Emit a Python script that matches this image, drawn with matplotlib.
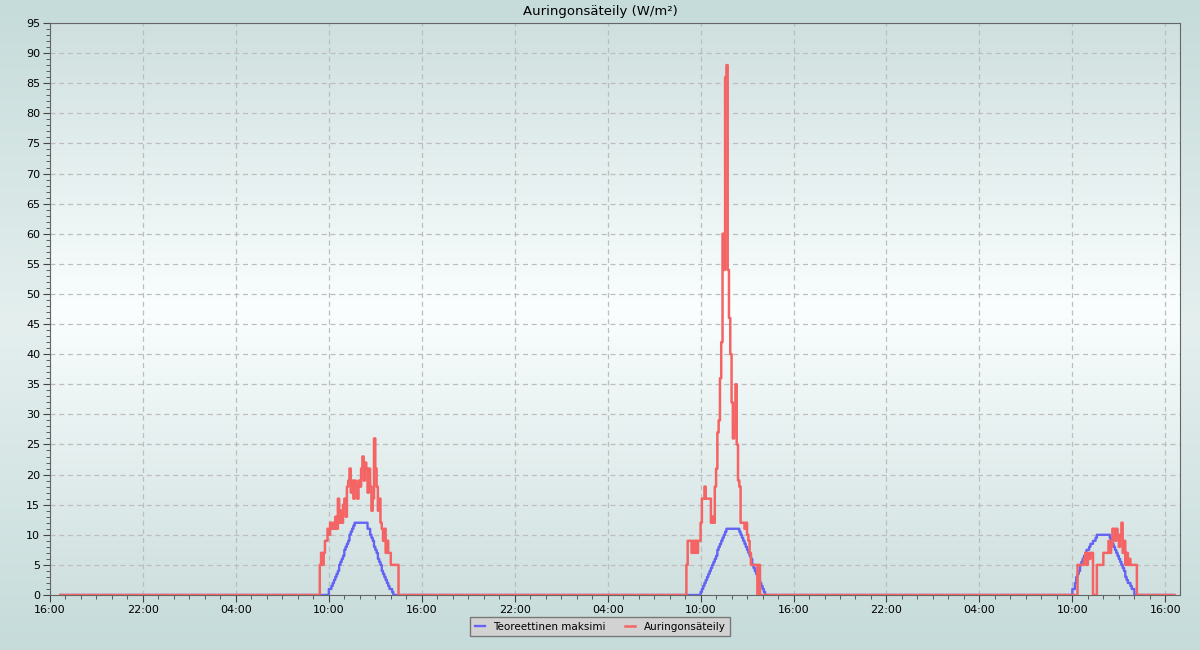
import numpy as np
import pandas as pd
import matplotlib
matplotlib.use("Agg")
import matplotlib.pyplot as plt
import matplotlib.dates as mdates
from matplotlib.ticker import MultipleLocator
from matplotlib.colors import LinearSegmentedColormap

plt.rcParams['font.family'] = ['DejaVu Sans']

# aikasarja 5 min välein, 16:40 (päivä 1) -> 16:35 (päivä 4)
alku = pd.Timestamp("2024-03-10 16:40")
loppu = pd.Timestamp("2024-03-13 16:35")

# teoreettinen maksimi (5 min arvot)
maksimi_pv2_alku = "2024-03-11 10:00"
maksimi_pv2 = [1, 1, 1.5, 2, 2.5, 3, 3.5, 4, 5, 5.5, 6, 6.5, 7.5, 8, 8.5, 9, 10, 10.5, 11, 11.5,
               12, 12, 12, 12, 12, 12, 12, 12, 12, 12,
               11, 11, 10, 9.5, 9, 8, 7.5, 7, 6, 5.5, 5, 4, 3.5, 3, 2.5, 2, 1.5, 1, 1, 0.5, 0]
maksimi_pv3_alku = "2024-03-12 10:00"
maksimi_pv3 = [0.5, 1, 1.5, 2, 2.5, 3, 3.5, 4, 4.5, 5, 5.5, 6, 6.5, 7.5, 8, 8.5, 9, 9.5, 10, 10.5,
               11, 11, 11, 11, 11, 11, 11, 11, 11, 11,
               10.5, 10, 9.5, 9, 8.5, 8, 7.5, 7, 6.5, 6, 5, 4.5, 4, 3.5, 3, 2.5, 2, 1.5, 1, 0.5, 0]
maksimi_pv4_alku = "2024-03-13 10:00"
maksimi_pv4 = [1, 1, 2, 3, 3.5, 4, 5, 5.5, 6, 6.5, 7, 7.5, 7.5, 8, 8.5, 8.5, 9, 9, 9.5,
               10, 10, 10, 10, 10, 10, 10, 10, 10, 10,
               9.5, 9, 8.5, 8, 7.5, 7, 6.5, 6, 5.5, 5, 4.5, 4, 3, 2.5, 2, 2, 1.5, 1, 1, 0]

# mitattu auringonsäteily (5 min arvot)
sateily_pv2_alku = "2024-03-11 09:25"
sateily_pv2 = [5, 7, 5, 7, 9, 9, 11, 10, 12, 11, 12, 11, 13, 11, 16, 12, 14, 12, 15, 16, 13,
               18, 19, 21, 17, 19, 16, 19, 18, 16, 19, 18, 21, 23, 19, 22, 21, 17, 21, 18, 14,
               16, 26, 21, 18, 14, 16, 12, 11, 9, 11, 7, 9, 7, 7, 5, 5, 5, 5, 5, 5, 0]
sateily_pv3_alku = "2024-03-12 09:05"
sateily_pv3 = [5, 9, 9, 9, 7, 9, 7, 9, 7, 9, 9, 12, 16, 16, 18, 16, 16, 16, 16, 12,
               13, 12, 18, 21, 27, 29, 36, 42, 60, 54, 86, 88, 54, 46, 40, 32, 26, 28, 35, 25,
               19, 18, 12, 12, 12, 11, 12, 10, 9, 7, 5, 5, 5, 5, 5, 0, 5, 0]
sateily_pv4_alku = "2024-03-13 10:20"
sateily_pv4 = [5, 5, 5, 5, 5, 6, 7, 5, 7, 6, 7, 7, 0, 0, 0, 5, 5, 5, 5, 5,
               7, 7, 7, 7, 9, 7, 8, 11, 11, 9, 11, 10, 8, 10, 12, 7, 9, 5, 7, 5,
               6, 5, 5, 5, 5, 5, 0]


def sarja(paivat):
    # yölliset arvot ovat nollia
    s = pd.Series(0.0, index=pd.date_range(alku, loppu, freq="5min"))
    for t0, arvot in paivat:
        idx = pd.date_range(t0, periods=len(arvot), freq="5min")
        s.loc[idx] = arvot
    return s


maksimi = sarja([(maksimi_pv2_alku, maksimi_pv2), (maksimi_pv3_alku, maksimi_pv3),
                 (maksimi_pv4_alku, maksimi_pv4)])
sateily = sarja([(sateily_pv2_alku, sateily_pv2), (sateily_pv3_alku, sateily_pv3),
                 (sateily_pv4_alku, sateily_pv4)])

fig = plt.figure(figsize=(12, 6.5), dpi=100)

# taustan liukuväri
tausta = fig.add_axes([0, 0, 1, 1], zorder=-10)
tausta.axis("off")
cm_fig = LinearSegmentedColormap.from_list("fig", ["#c6dcda", "#e4efee", "#c6dcda"])
tausta.imshow(np.linspace(0, 1, 256).reshape(-1, 1), aspect="auto", cmap=cm_fig,
              extent=[0, 1, 0, 1])

ax = fig.add_axes([50 / 1200, 55 / 650, 1130 / 1200, 572 / 650])
ax.set_facecolor("none")
x0 = pd.Timestamp("2024-03-10 16:00")
x1 = pd.Timestamp("2024-03-13 16:57")
cm_ax = LinearSegmentedColormap.from_list("ax", ["#cfe0df", "#fafefe", "#cfe0df"])
ax.imshow(np.linspace(0, 1, 256).reshape(-1, 1), aspect="auto", cmap=cm_ax,
          extent=[mdates.date2num(x0), mdates.date2num(x1), 0, 95], zorder=0)

ax.plot(maksimi.index, maksimi.values, drawstyle="steps-post", color="#6464f4",
        lw=1.7, label="Teoreettinen maksimi", zorder=3)
ax.plot(sateily.index, sateily.values, drawstyle="steps-post", color="#f46464",
        lw=1.8, label="Auringonsäteily", zorder=4)

ax.set_xlim(x0, x1)
ax.set_ylim(0, 95)
ax.xaxis.set_major_locator(mdates.HourLocator(byhour=[4, 10, 16, 22]))
ax.xaxis.set_minor_locator(mdates.HourLocator())
ax.xaxis.set_major_formatter(mdates.DateFormatter("%H:%M"))
ax.yaxis.set_major_locator(MultipleLocator(5))
ax.yaxis.set_minor_locator(MultipleLocator(1))
ax.tick_params(which="major", length=5, color="#444444", labelsize=8, pad=2)
ax.tick_params(which="minor", length=3, color="#444444")
ax.grid(True, which="major", linestyle=(0, (4, 3)), color="#bdbdbd", lw=0.9, zorder=1)
for s in ax.spines.values():
    s.set_color("#666666")

fig.suptitle("Auringonsäteily (W/m²)", fontsize=9.5, x=0.5, y=0.993, va="top")

# selite kuvan keskelle alareunaan
h, l = ax.get_legend_handles_labels()
leg = fig.legend(h, l, loc="upper center", bbox_to_anchor=(0.5, 1 - 617 / 650), ncol=2,
                 fontsize=7.5, frameon=True, fancybox=False, handlelength=1.0,
                 columnspacing=1.8, borderpad=0.45, borderaxespad=0)
leg.get_frame().set_facecolor("#d2d2d2")
leg.get_frame().set_edgecolor("#777777")
leg.get_frame().set_alpha(1)

plt.savefig("out.png", dpi=100)
